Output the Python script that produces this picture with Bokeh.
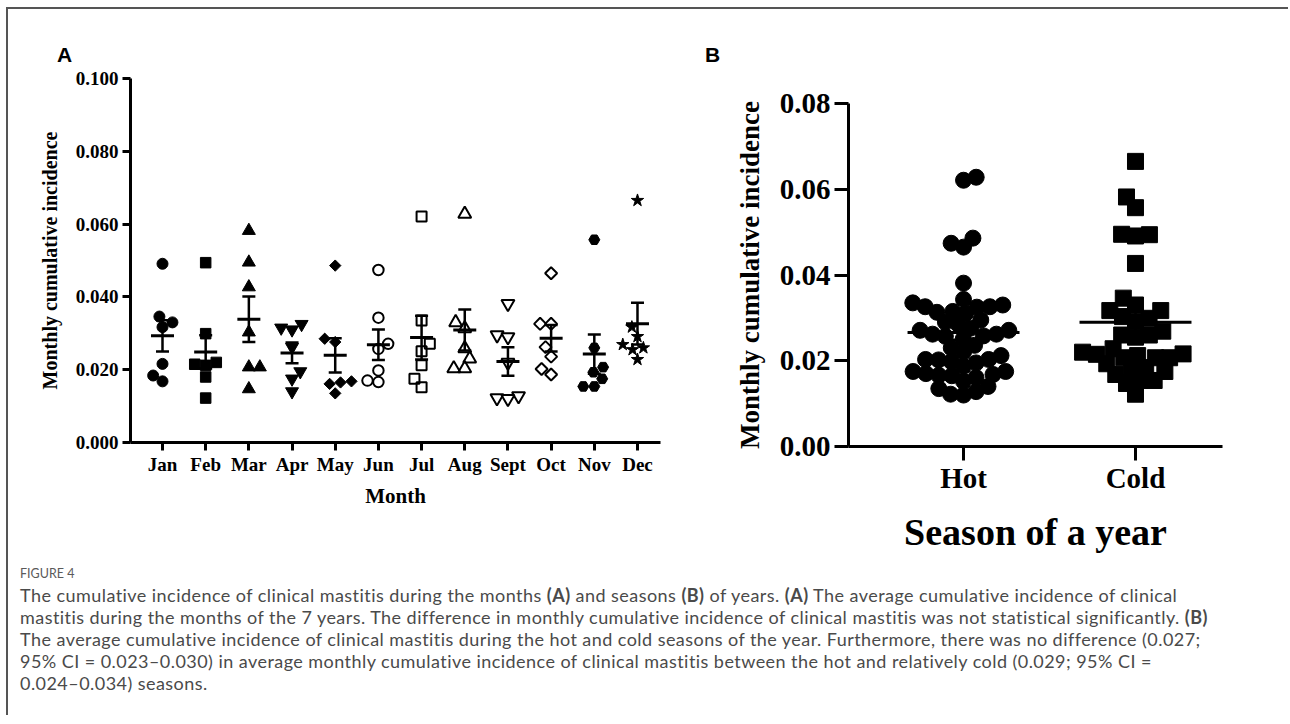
import numpy as np
from bokeh.plotting import figure
from bokeh.models import Range1d, FixedTicker, NumeralTickFormatter, Div, ColumnDataSource
from bokeh.layouts import row, column
from bokeh.embed import file_html
from bokeh.resources import INLINE

# ---------------- data ----------------
month_labels = ["Jan", "Feb", "Mar", "Apr", "May", "Jun", "Jul", "Aug", "Sept", "Oct", "Nov", "Dec"]
jan = [0.0491, 0.0346, 0.0330, 0.0317, 0.0216, 0.0184, 0.0168]
feb = [0.0494, 0.0299, 0.0220, 0.0212, 0.0215, 0.0180, 0.0122]
mar = [0.0582, 0.0495, 0.0427, 0.0303, 0.0207, 0.0207, 0.0147]
apr = [0.0325, 0.0315, 0.0310, 0.0262, 0.0195, 0.0175, 0.0140]
may = [0.0486, 0.0285, 0.0276, 0.0168, 0.0165, 0.0161, 0.0135]
jun = [0.0474, 0.0343, 0.0271, 0.0257, 0.0198, 0.0170, 0.0166]
jul = [0.0621, 0.0335, 0.0271, 0.0251, 0.0212, 0.0175, 0.0152]
aug = [0.0628, 0.0330, 0.0313, 0.0258, 0.0230, 0.0203, 0.0203]
sep = [0.0381, 0.0295, 0.0290, 0.0220, 0.0128, 0.0122, 0.0120]
octo = [0.0465, 0.0326, 0.0326, 0.0262, 0.0236, 0.0202, 0.0187]
nov = [0.0557, 0.0260, 0.0207, 0.0193, 0.0175, 0.0154, 0.0154]
dec = [0.0665, 0.0317, 0.0291, 0.0269, 0.0260, 0.0255, 0.0228]
months = [jan, feb, mar, apr, may, jun, jul, aug, sep, octo, nov, dec]

season_labels = ["Hot", "Cold"]
hot_months = ["Apr", "May", "Jun", "Jul", "Aug", "Sept", "Oct"]
cold_months = ["Nov", "Dec", "Jan", "Feb", "Mar"]

yticks_a = [0.0, 0.02, 0.04, 0.06, 0.08, 0.10]
yticks_b = [0.0, 0.02, 0.04, 0.06, 0.08]

SERIF = "Liberation Serif"

# ---------------- helpers ----------------
def swarm(vals_px, d):
    vals_px = np.asarray(vals_px, dtype=float)
    order = np.argsort(vals_px)
    placed = []
    xs = np.zeros(len(vals_px))
    flip = 1
    for i in order:
        y = vals_px[i]
        cands = [0.0]
        for (xj, yj) in placed:
            dy = abs(y - yj)
            if dy < d:
                dx = np.sqrt(d * d - dy * dy)
                cands += [xj + dx, xj - dx]
        cands.sort(key=lambda c: (round(abs(c), 3), -flip * c))
        chosen = 0.0
        for c in cands:
            if all((c - xj) ** 2 + (y - yj) ** 2 >= d * d - 1e-6 for xj, yj in placed):
                chosen = c
                break
        xs[i] = chosen
        placed.append((chosen, y))
        flip = -flip
    return xs


def style_axes(p, tick_font, tick_out, label_font):
    for ax in (p.xaxis[0], p.yaxis[0]):
        ax.axis_line_width = 3
        ax.axis_line_color = "black"
        ax.major_tick_line_width = 3
        ax.major_tick_line_color = "black"
        ax.major_tick_out = tick_out
        ax.major_tick_in = 0
        ax.minor_tick_out = 0
        ax.minor_tick_in = 0
        ax.major_label_text_font = SERIF
        ax.major_label_text_font_style = "bold"
        ax.major_label_text_font_size = tick_font
        ax.major_label_text_color = "black"
        ax.axis_label_text_font = SERIF
        ax.axis_label_text_font_style = "bold"
        ax.axis_label_text_font_size = label_font
        ax.axis_label_text_color = "black"
    p.xgrid.visible = False
    p.ygrid.visible = False
    p.outline_line_color = None


TOP = 60  # height of the panel-letter strip above the plots

# ---------------- panel A ----------------
pxA_x = 43.18   # px per category
pxA_y = 3640.0  # px per unit
pA = figure(width=690, height=556 - TOP, x_range=Range1d(-0.741, 11.533), y_range=Range1d(0, 0.1),
            output_backend="svg", toolbar_location=None, frame_align=False,
            min_border_left=122, min_border_right=38, min_border_top=69 - TOP, min_border_bottom=123)
style_axes(pA, "19px", 8, "20px")
pA.xaxis.ticker = FixedTicker(ticks=list(range(12)))
pA.xaxis.major_label_overrides = {i: m for i, m in enumerate(month_labels)}
pA.xaxis.major_label_standoff = 3
pA.xaxis.axis_label = "Month"
pA.xaxis.axis_label_text_font_size = "21px"
pA.xaxis.axis_label_standoff = 6
pA.yaxis.ticker = FixedTicker(ticks=yticks_a)
pA.yaxis.formatter = NumeralTickFormatter(format="0.000")
pA.yaxis.major_label_standoff = 4
pA.yaxis.axis_label = "Monthly cumulative incidence"
pA.yaxis.axis_label_standoff = 12

specs = [
    dict(marker="circle", size=11, fill=True),
    dict(marker="square", size=10.5, fill=True),
    dict(marker="triangle", size=13, fill=True),
    dict(marker="inverted_triangle", size=13, fill=True),
    dict(marker="square", size=8, fill=True, angle=np.pi / 4),
    dict(marker="circle", size=10.5, fill=False),
    dict(marker="square", size=10, fill=False),
    dict(marker="triangle", size=13, fill=False),
    dict(marker="inverted_triangle", size=13, fill=False),
    dict(marker="square", size=8.5, fill=False, angle=np.pi / 4),
    dict(marker="hex", size=11, fill=True),
    dict(marker="star", size=13, fill=True),
]

for i, (vals, sp) in enumerate(zip(months, specs)):
    v = np.array(vals)
    offs = swarm(v * pxA_y, 11.0) / pxA_x
    src = ColumnDataSource(dict(x=i + offs, y=v))
    kw = dict(marker=sp["marker"], size=sp["size"], line_color="black")
    if sp.get("angle"):
        kw["angle"] = sp["angle"]
    if sp["fill"]:
        kw.update(fill_color="black", line_width=1)
    else:
        kw.update(fill_color=None, line_width=2)
    pA.scatter("x", "y", source=src, **kw)

meansA = np.array([np.mean(v) for v in months])
semsA = np.array([np.std(v, ddof=1) / np.sqrt(len(v)) for v in months])
xa = np.arange(12)
mw, cw = 11.5 / pxA_x, 6.5 / pxA_x
pA.segment(x0=xa - mw, x1=xa + mw, y0=meansA, y1=meansA, line_width=3, line_color="black")
pA.segment(x0=xa, x1=xa, y0=meansA - semsA, y1=meansA + semsA, line_width=2.5, line_color="black")
pA.segment(x0=xa - cw, x1=xa + cw, y0=meansA + semsA, y1=meansA + semsA, line_width=2.5, line_color="black")
pA.segment(x0=xa - cw, x1=xa + cw, y0=meansA - semsA, y1=meansA - semsA, line_width=2.5, line_color="black")

# ---------------- panel B ----------------
pxB_x = 172.0
pxB_y = 4287.5
pB = figure(width=584, height=556 - TOP, x_range=Range1d(-0.669, 1.506), y_range=Range1d(0, 0.08),
            output_backend="svg", toolbar_location=None, frame_align=False,
            min_border_left=150, min_border_right=60, min_border_top=94 - TOP, min_border_bottom=119)
style_axes(pB, "29px", 14, "27px")
pB.xaxis.ticker = FixedTicker(ticks=[0, 1])
pB.xaxis.major_label_overrides = {0: season_labels[0], 1: season_labels[1]}
pB.xaxis.major_label_standoff = 1
pB.xaxis.axis_label = "Season of a year"
pB.xaxis.axis_label_text_font_size = "38px"
pB.xaxis.axis_label_standoff = 14
pB.yaxis.ticker = FixedTicker(ticks=yticks_b)
pB.yaxis.formatter = NumeralTickFormatter(format="0.00")
pB.yaxis.major_label_standoff = 4
pB.yaxis.axis_label = "Monthly cumulative incidence"
pB.yaxis.axis_label_standoff = 12

hot = np.concatenate([months[month_labels.index(m)] for m in hot_months])
cold = np.concatenate([months[month_labels.index(m)] for m in cold_months])

offs_hot = swarm(hot * pxB_y, 13.0) / pxB_x
offs_cold = swarm(cold * pxB_y, 14.0) / pxB_x
pB.scatter(0 + offs_hot, hot, marker="circle", size=16, fill_color="black", line_color="black")
pB.scatter(1 + offs_cold, cold, marker="square", size=16, fill_color="black", line_color="black")

meansB = np.array([hot.mean(), cold.mean()])
semsB = np.array([hot.std(ddof=1) / np.sqrt(len(hot)), cold.std(ddof=1) / np.sqrt(len(cold))])
xb = np.arange(2)
mwb, cwb = 56 / pxB_x, 20 / pxB_x
pB.segment(x0=xb - mwb, x1=xb + mwb, y0=meansB, y1=meansB, line_width=3, line_color="black")
pB.segment(x0=xb, x1=xb, y0=meansB - semsB, y1=meansB + semsB, line_width=2.5, line_color="black")
pB.segment(x0=xb - cwb, x1=xb + cwb, y0=meansB + semsB, y1=meansB + semsB, line_width=2.5, line_color="black")
pB.segment(x0=xb - cwb, x1=xb + cwb, y0=meansB - semsB, y1=meansB - semsB, line_width=2.5, line_color="black")

# ---------------- panel letters ----------------
letters = Div(text="""<div style="position:relative; width:1280px; height:%dpx; font-family:'Liberation Sans'; font-weight:bold; font-size:21px; line-height:21px; color:black;"><span style="position:absolute; left:49px; top:35px;">A</span><span style="position:absolute; left:697px; top:35px;">B</span></div>""" % TOP,
              width=1280, height=TOP, margin=0)

# ---------------- caption ----------------
caption = Div(text="""<div style="font-family:Lato; color:#4a4a4a; white-space:nowrap; padding-left:12px; margin-top:2px;">
<div style="font-size:12.5px; line-height:14px; color:#5a5a5a;">FIGURE 4</div>
<div style="font-size:18px; letter-spacing:0.45px; line-height:22px; margin-top:3px;">The cumulative incidence of clinical mastitis during the months <b>(A)</b> and seasons <b>(B)</b> of years. <b>(A)</b> The average cumulative incidence of clinical<br>mastitis during the months of the 7 years. The difference in monthly cumulative incidence of clinical mastitis was not statistical significantly. <b>(B)</b><br>The average cumulative incidence of clinical mastitis during the hot and cold seasons of the year. Furthermore, there was no difference (0.027;<br>95% CI = 0.023&ndash;0.030) in average monthly cumulative incidence of clinical mastitis between the hot and relatively cold (0.029; 95% CI =<br>0.024&ndash;0.034) seasons.</div></div>""",
              width=1280, height=150, margin=0)

layout = column(letters, row(pA, pB), caption,
                styles={"border-left": "2px solid #555", "border-top": "2px solid #555",
                        "margin-left": "6px", "margin-top": "7px"})

open("out.html", "w").write(file_html(layout, INLINE))
